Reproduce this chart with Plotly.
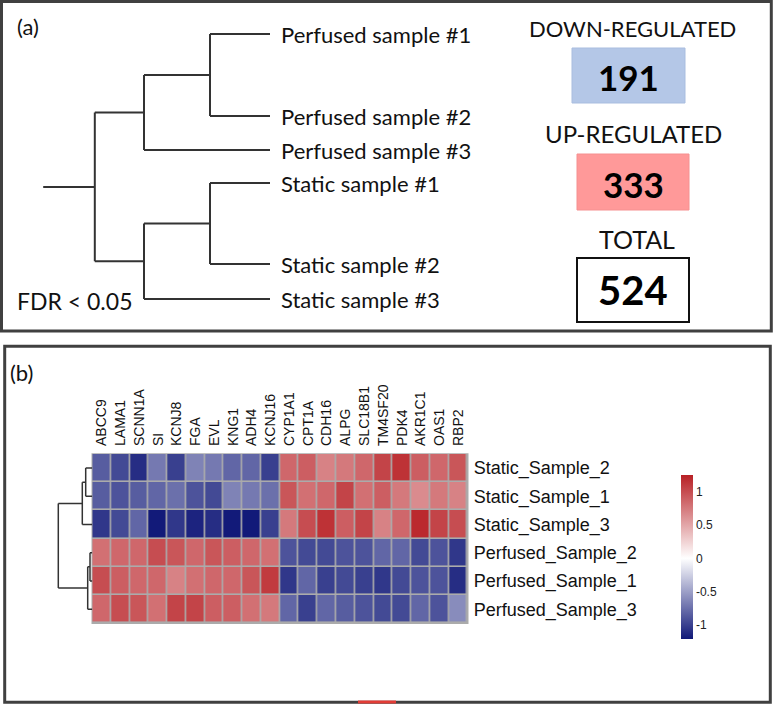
import plotly.graph_objects as go

# ---------------- data ----------------
# Panel (a): hierarchical clustering of samples
tree_a_leaves = ["Perfused sample #1", "Perfused sample #2", "Perfused sample #3",
                 "Static sample #1", "Static sample #2", "Static sample #3"]
# merges (child_i, child_j, height) ; new node ids continue after leaves
tree_a_merges = [(0, 1, 1.00), (6, 2, 2.10), (3, 4, 1.00), (8, 5, 2.10), (7, 9, 2.92)]
tree_a_root_stub = 3.78

reg_labels = ["DOWN-REGULATED", "UP-REGULATED", "TOTAL"]
reg_counts = [191, 333, 524]
fdr_text = "FDR < 0.05"

# Panel (b): heatmap
genes = ["ABCC9", "LAMA1", "SCNN1A", "SI", "KCNJ8", "FGA", "EVL", "KNG1", "ADH4", "KCNJ16",
         "CYP1A1", "CPT1A", "CDH16", "ALPG", "SLC18B1", "TM4SF20", "PDK4", "AKR1C1", "OAS1", "RBP2"]
samples = ["Static_Sample_2", "Static_Sample_1", "Static_Sample_3",
           "Perfused_Sample_2", "Perfused_Sample_1", "Perfused_Sample_3"]
z_static_2 = [-0.85, -0.95, -1.10, -0.70, -1.00, -0.65, -0.70, -0.80, -0.80, -1.00,
              0.85, 0.90, 0.70, 0.75, 0.85, 1.05, 1.15, 0.90, 0.85, 0.95]
z_static_1 = [-0.85, -0.90, -0.85, -0.80, -0.75, -0.90, -0.95, -0.65, -0.70, -0.75,
              0.95, 0.80, 0.85, 1.05, 0.80, 0.90, 0.75, 0.65, 0.75, 0.70]
z_static_3 = [-1.05, -0.95, -0.80, -1.20, -1.05, -1.15, -1.10, -1.20, -1.20, -1.00,
              0.75, 1.00, 1.15, 0.90, 1.05, 0.70, 0.85, 1.20, 1.05, 1.00]
z_perf_2 = [0.80, 0.85, 0.85, 1.00, 0.95, 0.85, 0.95, 0.90, 0.85, 0.80,
            -0.90, -0.95, -0.95, -0.90, -0.90, -0.80, -0.80, -0.95, -0.90, -1.05]
z_perf_1 = [1.00, 0.90, 0.85, 0.85, 0.70, 0.80, 0.85, 0.85, 0.95, 1.10,
            -1.05, -0.80, -1.00, -0.95, -1.00, -1.05, -0.95, -0.90, -0.90, -1.10]
z_perf_3 = [0.85, 1.00, 0.95, 0.80, 1.05, 1.05, 0.90, 0.90, 0.80, 0.75,
            -0.80, -1.00, -0.80, -0.85, -0.90, -0.95, -0.95, -0.80, -0.90, -0.60]
z_min, z_max = -1.21, 1.25
cbar_ticks = [-1, -0.5, 0, 0.5, 1]
cbar_ticktext = ["-1", "-0.5", "0", "0.5", "1"]

# Row dendrogram of heatmap (rows indexed as in `samples`)
tree_b_merges = [(0, 1, 0.66), (6, 2, 1.00), (3, 4, 0.23), (8, 5, 0.46), (7, 9, 3.40)]

# ---------------- layout helpers ----------------
W, H = 773, 704
def px(x):
    return x / W
def py(y):
    return 1 - y / H

LEAF_Y_A = [34, 116, 150, 183, 264, 299]   # pixel rows of leaves in panel (a)
FONT_A = "Lato, Calibri, sans-serif"
FONT_B = "Liberation Sans, Arial, sans-serif"
LINE = "#333333"


def dendro_segments(leaf_pos, merges):
    pos = list(leaf_pos)
    hts = [0.0] * len(leaf_pos)
    xs, ys = [], []
    for a, b, h in merges:
        for c in (a, b):
            xs += [hts[c], h, None]
            ys += [pos[c], pos[c], None]
        xs += [h, h, None]
        ys += [pos[a], pos[b], None]
        pos.append((pos[a] + pos[b]) / 2)
        hts.append(h)
    return xs, ys, pos[-1], hts[-1]


fig = go.Figure()

# Panel (a) dendrogram
xa, ya, root_y, root_h = dendro_segments(LEAF_Y_A, tree_a_merges)
xa += [root_h, tree_a_root_stub, None]
ya += [root_y, root_y, None]
fig.add_trace(go.Scatter(x=xa, y=ya, mode="lines", xaxis="x4", yaxis="y",
                         line=dict(color=LINE, width=2), hoverinfo="skip", showlegend=False))

# Panel (b) heatmap
z = [z_static_2, z_static_1, z_static_3, z_perf_2, z_perf_1, z_perf_3]
z0 = (0 - z_min) / (z_max - z_min)
fig.add_trace(go.Heatmap(
    z=z, x=list(range(len(genes))), y=list(range(len(samples))),
    xaxis="x2", yaxis="y2", zmin=z_min, zmax=z_max, xgap=1.6, ygap=1.6,
    colorscale=[[0, "#101878"], [z0, "#ffffff"], [1, "#b82025"]],
    colorbar=dict(x=px(681), xanchor="left", xpad=0, ypad=0,
                  y=py(557), yanchor="middle", len=164, lenmode="pixels",
                  thickness=12, thicknessmode="pixels", outlinewidth=0,
                  tickvals=cbar_ticks, ticktext=cbar_ticktext, ticks="",
                  tickfont=dict(family=FONT_B, size=12, color="#222222")),
    hoverinfo="skip"))

# Panel (b) row dendrogram
xb, yb, _, hb = dendro_segments(list(range(len(samples))), tree_b_merges)
fig.add_trace(go.Scatter(x=xb, y=yb, mode="lines", xaxis="x3", yaxis="y2",
                         line=dict(color=LINE, width=1.5), hoverinfo="skip", showlegend=False))

shapes = []
# panel borders
shapes.append(dict(type="rect", xref="paper", yref="paper", x0=px(1.5), x1=px(771.3),
                   y0=py(1.5), y1=py(331), line=dict(color="#404040", width=3)))
shapes.append(dict(type="rect", xref="paper", yref="paper", x0=px(4.7), x1=px(770.3),
                   y0=py(346.2), y1=py(702.3), line=dict(color="#404040", width=3)))
# heatmap grid background
shapes.append(dict(type="rect", xref="paper", yref="paper", layer="below",
                   x0=px(91.5), x1=px(468.5), y0=py(453.2), y1=py(624.1),
                   fillcolor="#ababab", line=dict(width=0)))
# count boxes
box_px = [(572, 685, 48, 103), (577, 689, 154, 210), (577, 689, 258, 322)]
box_fill = ["#b4c7e7", "#ff9999", "#ffffff"]
box_line = [dict(color="#a9bddf", width=1), dict(color="#f59090", width=1),
            dict(color="#111111", width=2)]
for (x0, x1, y0, y1), fc, ln in zip(box_px, box_fill, box_line):
    shapes.append(dict(type="rect", xref="paper", yref="paper", x0=px(x0), x1=px(x1),
                       y0=py(y0), y1=py(y1), fillcolor=fc, line=ln))
# small red streak at the very bottom of the picture
shapes.append(dict(type="rect", xref="paper", yref="paper", x0=px(358), x1=px(396),
                   y0=py(703.5), y1=py(700.5), fillcolor="#e23c36", line=dict(width=0)))

ann = []
def text(x, y, s, size, family=FONT_A, xanchor="left", bold=False, color="#111111"):
    ann.append(dict(x=px(x), y=py(y), xref="paper", yref="paper", text=(f"<b>{s}</b>" if bold else s),
                    showarrow=False, xanchor=xanchor, yanchor="middle",
                    font=dict(family=family, size=size, color=color)))

text(15, 27, "(a)", 22)
text(8, 372, "(b)", 22)
for lab, yy in zip(tree_a_leaves, LEAF_Y_A):
    text(279, yy, lab, 22)
text(15, 301, fdr_text, 23)
label_centers = [(632, 28), (633, 134), (637, 239)]
label_sizes = [22, 24, 25]
num_centers = [(628.5, 77), (633, 184), (633, 290)]
num_sizes = [35, 35, 40]
for lab, cnt, (lx, ly), ls, (nx, ny), ns in zip(reg_labels, reg_counts, label_centers, label_sizes,
                                                num_centers, num_sizes):
    text(lx, ly, lab, ls, xanchor="center")
    text(nx, ny, str(cnt), ns, xanchor="center", bold=True, color="#000000")

fig.update_layout(
    width=W, height=H, margin=dict(l=0, r=0, t=0, b=0),
    paper_bgcolor="white", plot_bgcolor="rgba(0,0,0,0)", showlegend=False,
    xaxis=dict(domain=[0, 1], range=[0, W], visible=False, fixedrange=True),
    yaxis=dict(domain=[0, 1], range=[H, 0], visible=False, fixedrange=True),
    xaxis4=dict(domain=[px(30), px(270)], range=[4.0, 0], visible=False, anchor="y"),
    xaxis2=dict(domain=[px(92.3), px(467.7)], range=[-0.5, len(genes) - 0.5], anchor="y2",
                side="top", tickvals=list(range(len(genes))), ticktext=genes, tickangle=-90,
                ticks="", ticklabelstandoff=7, showgrid=False, zeroline=False, showline=False,
                tickfont=dict(family=FONT_B, size=14, color="#111111")),
    yaxis2=dict(domain=[py(623.3), py(454)], range=[len(samples) - 0.5, -0.5], anchor="x2",
                side="right", tickvals=list(range(len(samples))), ticktext=samples,
                ticks="", ticklabelstandoff=5, showgrid=False, zeroline=False, showline=False,
                tickfont=dict(family=FONT_B, size=18, color="#111111")),
    xaxis3=dict(domain=[px(50), px(92.3)], range=[4.23, 0], visible=False, anchor="y2"),
    shapes=shapes, annotations=ann,
)

fig.write_html("out.html", config={"displayModeBar": False},
               post_script="document.body.style.margin='0';")
